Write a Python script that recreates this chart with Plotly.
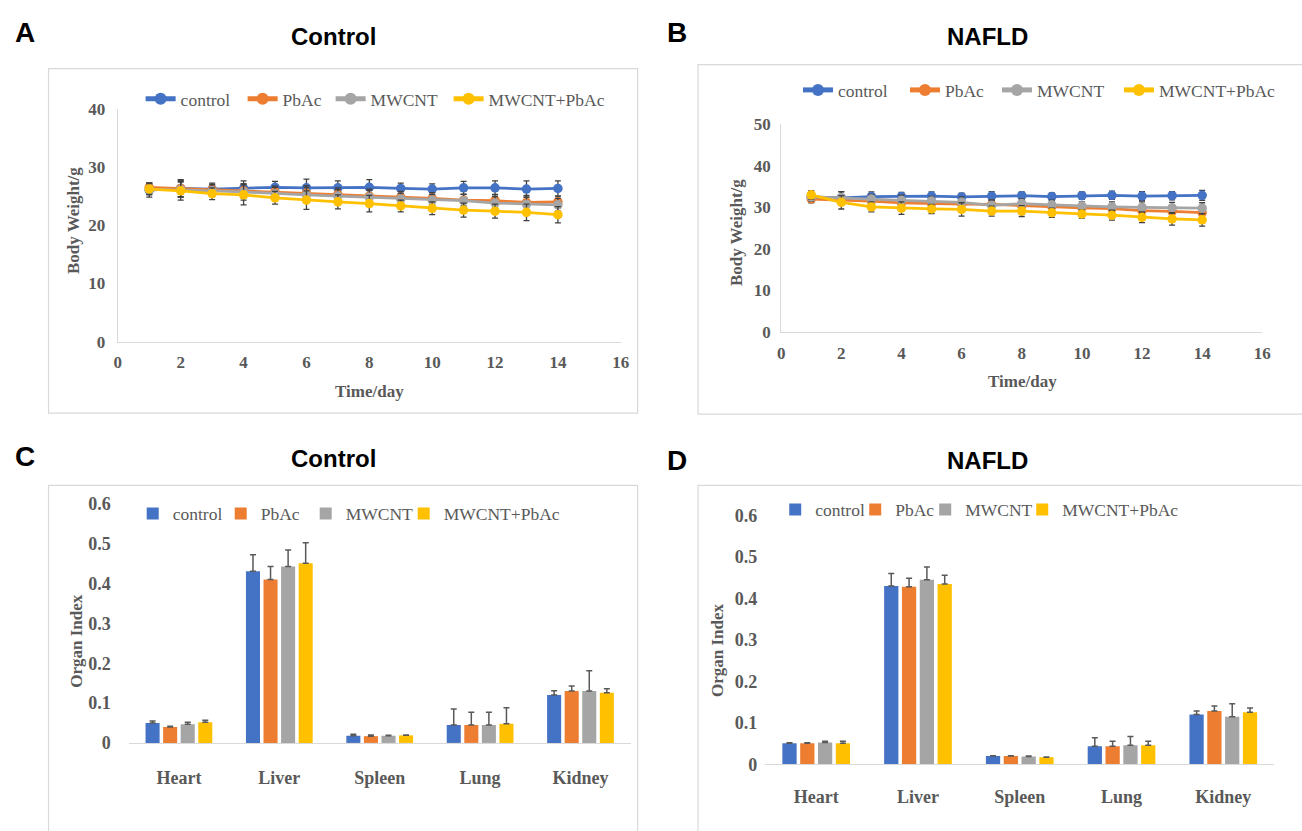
import plotly.graph_objects as go

W, H = 1302, 831

def px(x):
    return x / W

def py(y):
    return 1 - y / H

# ---------------- data ----------------
groups = ["control", "PbAc", "MWCNT", "MWCNT+PbAc"]
colors = ["#4472C4", "#ED7D31", "#A5A5A5", "#FFC000"]
days = list(range(1, 15))

# Panel A: Control body weight (g)
a_control = [26.0, 26.3, 26.2, 26.3, 26.5, 26.4, 26.4, 26.5, 26.3, 26.2, 26.4, 26.4, 26.2, 26.3]
a_pbac = [26.5, 26.3, 26.1, 25.9, 25.7, 25.5, 25.3, 25.0, 24.8, 24.6, 24.3, 24.2, 23.9, 24.0]
a_mwcnt = [26.2, 26.1, 25.9, 25.7, 25.4, 25.2, 25.0, 24.8, 24.5, 24.3, 24.2, 23.8, 23.6, 23.5]
a_mix = [26.2, 25.9, 25.4, 25.2, 24.7, 24.3, 24.0, 23.7, 23.3, 22.9, 22.6, 22.4, 22.2, 21.8]
a_control_err = [1.2, 1.5, 1.0, 1.3, 1.0, 1.5, 1.2, 1.3, 0.9, 0.9, 1.1, 1.2, 1.4, 1.3]
a_pbac_err = [0.8, 1.4, 0.9, 1.2, 1.0, 1.3, 1.1, 1.2, 1.0, 1.0, 1.0, 1.1, 1.2, 1.0]
a_mwcnt_err = [0.9, 1.3, 1.0, 1.4, 1.1, 1.3, 1.1, 1.2, 1.0, 1.0, 1.1, 1.1, 1.2, 1.1]
a_mix_err = [1.0, 1.6, 1.0, 1.7, 1.1, 1.6, 1.2, 1.4, 1.0, 1.1, 1.2, 1.2, 1.4, 1.4]

# Panel B: NAFLD body weight (g)
b_control = [32.5, 32.3, 32.6, 32.6, 32.7, 32.5, 32.7, 32.8, 32.6, 32.8, 32.9, 32.7, 32.8, 32.9]
b_pbac = [32.0, 31.8, 31.5, 31.1, 30.9, 30.8, 30.7, 30.4, 30.2, 29.9, 29.7, 29.2, 29.0, 28.7]
b_mwcnt = [32.5, 32.3, 32.0, 31.7, 31.5, 31.2, 30.5, 30.9, 30.6, 30.3, 30.1, 30.0, 29.9, 29.8]
b_mix = [33.0, 31.2, 30.1, 29.8, 29.6, 29.5, 29.1, 29.1, 28.7, 28.4, 28.1, 27.6, 27.2, 27.0]
b_control_err = [1.0, 1.4, 1.1, 1.0, 1.0, 0.9, 1.1, 0.9, 0.9, 0.9, 1.0, 1.1, 1.0, 1.2]
b_pbac_err = [0.9, 1.2, 1.0, 1.1, 1.0, 1.1, 1.0, 1.0, 1.0, 0.9, 1.0, 1.1, 1.2, 1.2]
b_mwcnt_err = [1.0, 1.5, 1.1, 1.2, 1.1, 1.3, 1.2, 1.1, 1.1, 1.0, 1.2, 1.3, 1.3, 1.3]
b_mix_err = [1.0, 1.6, 1.2, 1.5, 1.1, 1.6, 1.2, 1.3, 1.1, 1.0, 1.2, 1.3, 1.5, 1.5]

# Panels C / D: organ index
organs = ["Heart", "Liver", "Spleen", "Lung", "Kidney"]
c_vals = [
    [0.050, 0.431, 0.018, 0.045, 0.120],
    [0.040, 0.410, 0.017, 0.045, 0.130],
    [0.047, 0.443, 0.018, 0.045, 0.130],
    [0.052, 0.451, 0.019, 0.048, 0.126],
]
c_errs = [
    [0.005, 0.041, 0.004, 0.040, 0.011],
    [0.002, 0.033, 0.003, 0.032, 0.013],
    [0.005, 0.041, 0.001, 0.032, 0.051],
    [0.005, 0.051, 0.001, 0.040, 0.010],
]
d_vals = [
    [0.051, 0.430, 0.020, 0.044, 0.120],
    [0.051, 0.428, 0.020, 0.044, 0.129],
    [0.053, 0.445, 0.019, 0.046, 0.115],
    [0.051, 0.435, 0.017, 0.046, 0.126],
]
d_errs = [
    [0.001, 0.030, 0.001, 0.020, 0.009],
    [0.001, 0.021, 0.001, 0.012, 0.012],
    [0.003, 0.031, 0.001, 0.021, 0.031],
    [0.005, 0.021, 0.001, 0.010, 0.010],
]

a_series = [(a_control, a_control_err), (a_pbac, a_pbac_err), (a_mwcnt, a_mwcnt_err), (a_mix, a_mix_err)]
b_series = [(b_control, b_control_err), (b_pbac, b_pbac_err), (b_mwcnt, b_mwcnt_err), (b_mix, b_mix_err)]

# legend entry widths (px) per panel, so the entries sit like the original legends
a_legw = [57, 43, 73, None]
b_legw = [62, 47, 77, None]
c_legw = [43, 40, 53, None]
d_legw = [35, 25, 52, None]

# ---------------- styles ----------------
SERIF = "Liberation Serif"
SANS = "Liberation Sans"
TXT = "#595959"
ERR = "#404040"
AXLINE = "#D9D9D9"

fig = go.Figure()

def lw(v):
    return {} if v is None else {"legendwidth": v}

for i, (vals, err) in enumerate(a_series):
    fig.add_trace(go.Scatter(
        x=days, y=vals, name=groups[i], mode="lines+markers",
        line=dict(color=colors[i], width=2.75),
        marker=dict(color=colors[i], size=9.5),
        error_y=dict(type="data", array=err, color=ERR, thickness=1.3, width=3),
        xaxis="x", yaxis="y", legend="legend", **lw(a_legw[i]),
    ))

for i, (vals, err) in enumerate(b_series):
    fig.add_trace(go.Scatter(
        x=days, y=vals, name=groups[i], mode="lines+markers",
        line=dict(color=colors[i], width=2.75),
        marker=dict(color=colors[i], size=9.5),
        error_y=dict(type="data", array=err, color=ERR, thickness=1.3, width=3),
        xaxis="x2", yaxis="y2", legend="legend2", **lw(b_legw[i]),
    ))

for i in range(4):
    fig.add_trace(go.Bar(
        x=organs, y=c_vals[i], name=groups[i],
        marker=dict(color=colors[i], line=dict(width=0)),
        error_y=dict(type="data", array=c_errs[i], arrayminus=[0] * 5, symmetric=False,
                     color=TXT, thickness=1.5, width=3),
        xaxis="x3", yaxis="y3", legend="legend3", **lw(c_legw[i]),
    ))

for i in range(4):
    fig.add_trace(go.Bar(
        x=organs, y=d_vals[i], name=groups[i],
        marker=dict(color=colors[i], line=dict(width=0)),
        error_y=dict(type="data", array=d_errs[i], arrayminus=[0] * 5, symmetric=False,
                     color=TXT, thickness=1.5, width=3),
        xaxis="x4", yaxis="y4", legend="legend4", **lw(d_legw[i]),
    ))

tickfont = dict(family=SERIF, size=17, color=TXT, weight="bold")
legfont = dict(family=SERIF, size=17.5, color=TXT)

def lin_x(dom, anchor):
    return dict(domain=dom, anchor=anchor, range=[0, 16], dtick=2, tick0=0,
                showline=True, linecolor=AXLINE, linewidth=1.2, showgrid=False,
                zeroline=False, ticks="", tickfont=tickfont, ticklabelstandoff=5)

def lin_y(dom, anchor, top, standoff):
    return dict(domain=dom, anchor=anchor, range=[0, top], dtick=10, tick0=0,
                showline=True, linecolor=AXLINE, linewidth=1.2, showgrid=False,
                zeroline=False, ticks="", tickfont=tickfont, ticklabelstandoff=standoff)

def cat_x(dom, anchor, standoff):
    return dict(domain=dom, anchor=anchor, type="category",
                showline=True, linecolor=AXLINE, linewidth=1.2, showgrid=False,
                zeroline=False, ticks="", tickfont=dict(family=SERIF, size=18, color=TXT, weight="bold"),
                ticklabelstandoff=standoff)

def bar_y(dom, anchor, standoff):
    return dict(domain=dom, anchor=anchor, range=[0, 0.6], dtick=0.1, tick0=0,
                showline=False, showgrid=False, zeroline=False, ticks="",
                tickfont=dict(family=SERIF, size=18, color=TXT, weight="bold"),
                ticklabelstandoff=standoff)

def legend(x, y):
    return dict(orientation="h", x=px(x), y=py(y), xanchor="left", yanchor="middle",
                font=legfont, bgcolor="rgba(0,0,0,0)", itemsizing="constant",
                traceorder="normal")

annotations = []

def ann(text, x, y, size, family, bold=True, angle=0, color=None):
    annotations.append(dict(
        text=text, x=px(x), y=py(y), xref="paper", yref="paper",
        xanchor="center", yanchor="middle", showarrow=False, textangle=angle,
        font=dict(family=family, size=size, color=color or "#000000",
                  weight="bold" if bold else "normal"),
    ))

# panel letters and titles
ann("A", 21, 23, 28, SANS)
ann("B", 680, 23, 28, SANS)
ann("C", 21, 458, 28, SANS)
ann("D", 680, 462, 28, SANS)
ann("Control", 333, 27, 24, SANS)
ann("NAFLD", 993, 27, 24, SANS)
ann("Control", 333, 460, 24, SANS)
ann("NAFLD", 993, 462, 24, SANS)
# axis titles
ann("Body Weight/g", 71, 216, 17, SERIF, angle=-90, color=TXT)
ann("Body Weight/g", 740, 228, 17, SERIF, angle=-90, color=TXT)
ann("Time/day", 369, 391, 17, SERIF, color=TXT)
ann("Time/day", 1029, 381, 17, SERIF, color=TXT)
ann("Organ Index", 73, 646, 17, SERIF, angle=-90, color=TXT)
ann("Organ Index", 720, 656, 17, SERIF, angle=-90, color=TXT)

shapes = []
for (x0, y0, x1, y1) in [(45, 60, 640, 413), (701, 56, 1320, 414),
                         (45, 487, 640, 850), (701, 487, 1320, 850)]:
    shapes.append(dict(type="rect", xref="paper", yref="paper",
                       x0=px(x0), x1=px(x1), y0=py(y1), y1=py(y0),
                       line=dict(color=AXLINE, width=1.2), fillcolor="rgba(0,0,0,0)",
                       layer="below"))

fig.update_layout(
    width=W, height=H, margin=dict(l=0, r=0, t=0, b=0),
    paper_bgcolor="white", plot_bgcolor="white",
    barmode="group", bargap=0.3, bargroupgap=0.2,
    xaxis=lin_x([px(115), px(623)], "y"),
    yaxis=lin_y([py(340), py(101)], "x", 40, 8),
    xaxis2=lin_x([px(785), px(1271)], "y2"),
    yaxis2=lin_y([py(330), py(117)], "x2", 50, 6),
    xaxis3=cat_x([px(126), px(633)], "y3", 18),
    yaxis3=bar_y([py(751), py(506)], "x3", 17),
    xaxis4=cat_x([px(769), px(1283)], "y4", 16),
    yaxis4=bar_y([py(773), py(518)], "x4", 7),
    legend=legend(138, 91),
    legend2=legend(802, 82),
    legend3=legend(130, 516),
    legend4=legend(779, 512),
    annotations=annotations,
    shapes=shapes,
    showlegend=True,
)

fig.write_html("out.html", config={"displayModeBar": False},
               post_script="document.body.style.margin='0px';")
